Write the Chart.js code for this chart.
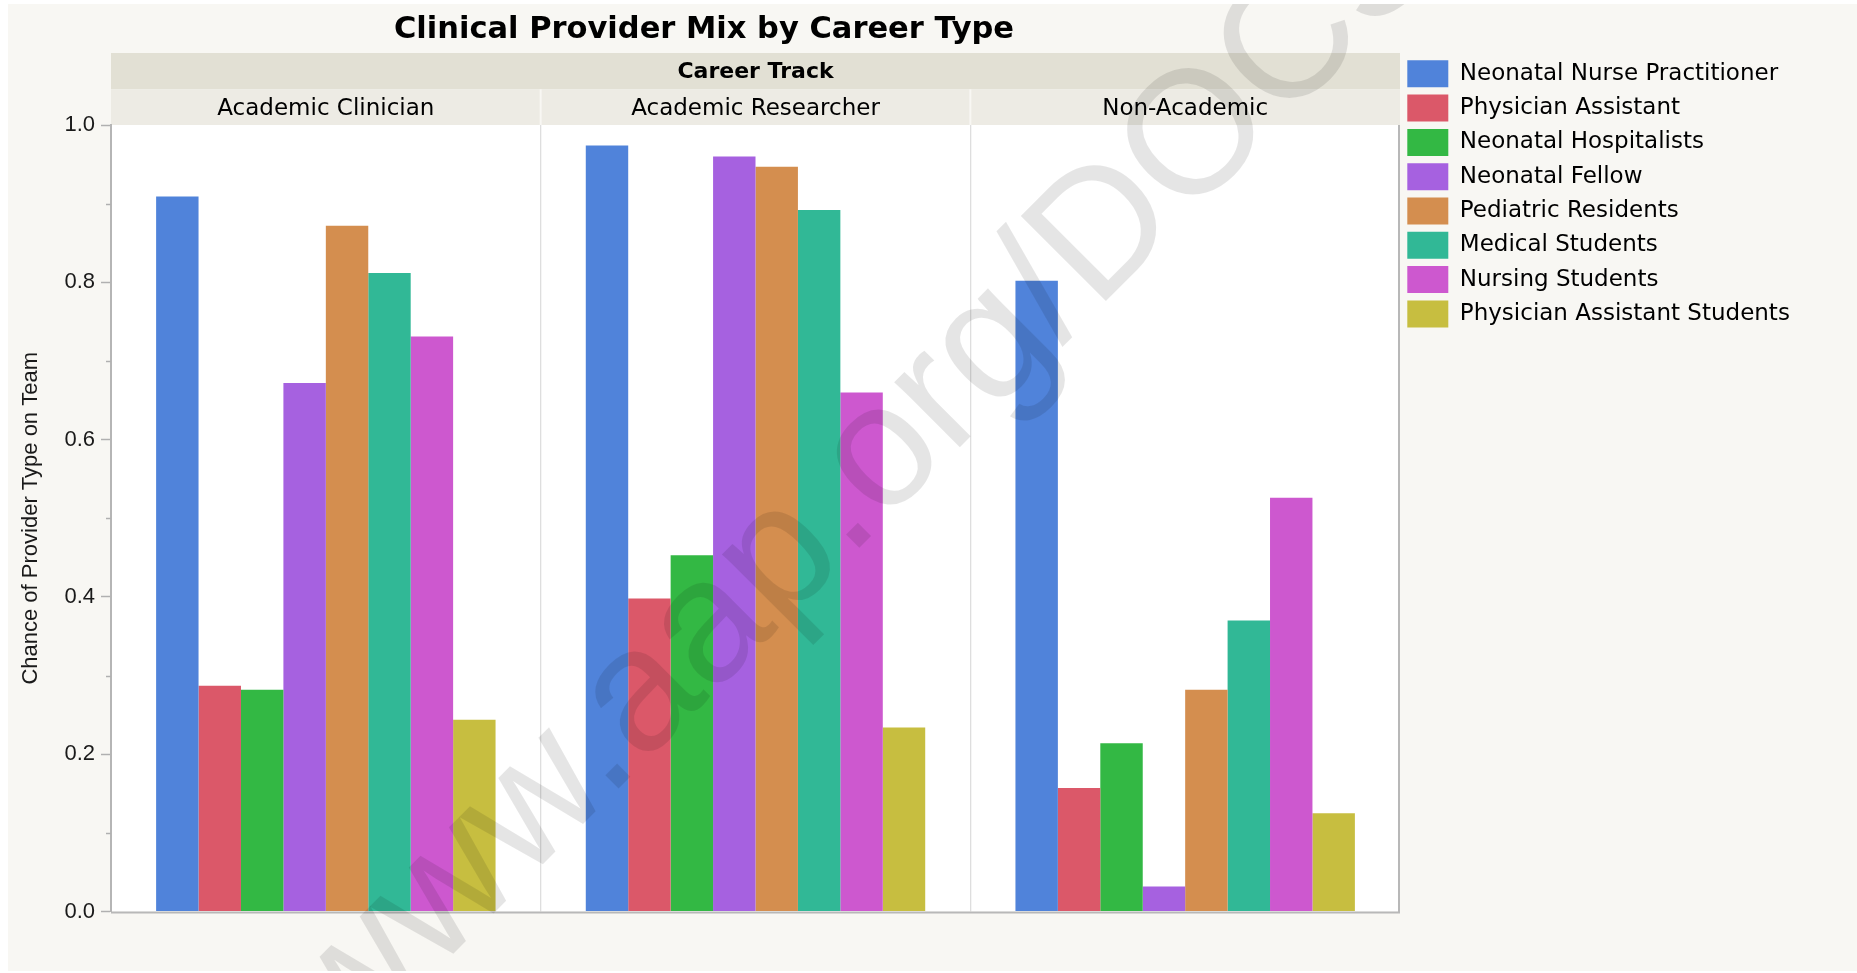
<!DOCTYPE html>
<html>
<head>
<meta charset="utf-8">
<title>Clinical Provider Mix by Career Type</title>
<script src="https://cdn.jsdelivr.net/npm/chart.js@4.4.1/dist/chart.umd.min.js"></script>
<style>
    html, body { margin: 0; padding: 0; background: #ffffff; overflow: hidden; }
    #wrap { position: absolute; left: 8px; top: 4px; width: 1849px; height: 967px; background: #f8f7f3; }
</style>
</head>
<body>
<div id="wrap"><canvas id="chart"></canvas></div>
<script>
// Panels (career track)
const careerTracks = ['Academic Clinician', 'Academic Researcher', 'Non-Academic'];

// Provider types, in legend order
const providerTypes = [
    'Neonatal Nurse Practitioner',
    'Physician Assistant',
    'Neonatal Hospitalists',
    'Neonatal Fellow',
    'Pediatric Residents',
    'Medical Students',
    'Nursing Students',
    'Physician Assistant Students'
];

// Chance of provider type on team, one value per career track
const nursePractitioner  = [0.909, 0.974, 0.802];
const physicianAssistant = [0.287, 0.398, 0.157];
const hospitalists       = [0.282, 0.453, 0.214];
const neonatalFellow     = [0.672, 0.960, 0.032];
const pediatricResidents = [0.872, 0.947, 0.282];
const medicalStudents    = [0.812, 0.892, 0.370];
const nursingStudents    = [0.731, 0.660, 0.526];
const paStudents         = [0.244, 0.234, 0.125];

const seriesValues = [nursePractitioner, physicianAssistant, hospitalists, neonatalFellow,
    pediatricResidents, medicalStudents, nursingStudents, paStudents];

const providerColors = ['#5083da', '#db5869', '#33b844', '#a661e0', '#d48e4f', '#31b896', '#cd58cf', '#c7be40'];

// y axis
const yMin = 0;
const yMax = 1.0;
const yStep = 0.2;
const yMinorTicks = [0.1, 0.3, 0.5, 0.7, 0.9];

// Legend sizing: work out how wide Chart.js will make the legend, so the plot ends at x = 1392
const legendFont = { family: 'DejaVu Sans', size: 23 };
const legendBox = 41;
const legendPad = 7.3;
const measureCtx = document.createElement('canvas').getContext('2d');
measureCtx.font = legendFont.size + 'px ' + legendFont.family;
const longestLabel = Math.max(...providerTypes.map(t => measureCtx.measureText(t).width));
const legendWidth = legendPad + legendBox + legendFont.size / 2 + longestLabel + 10;
const plotRight = 1392;
const padRight = 1849 - plotRight - legendWidth;

// Strips, frame, title and watermark
const facetDecor = {
    id: 'facetDecor',
    beforeDraw(chart) {
        const { ctx, chartArea } = chart;
        const xs = chart.scales.x;
        ctx.save();
        // white plot area
        ctx.fillStyle = '#ffffff';
        ctx.fillRect(chartArea.left, chartArea.top, chartArea.right - chartArea.left, chartArea.bottom - chartArea.top);
        // Career Track strip + panel label strip
        const stripTop = xs.top;
        const midLine = xs.top + 36.3;
        ctx.fillStyle = '#e2e0d4';
        ctx.fillRect(chartArea.left, stripTop, chartArea.right - chartArea.left, midLine - stripTop);
        ctx.fillStyle = '#edebe4';
        ctx.fillRect(chartArea.left, midLine, chartArea.right - chartArea.left, chartArea.top - midLine);
        // separators in the panel label strip
        ctx.strokeStyle = '#f8f7f3';
        ctx.lineWidth = 2;
        for (let i = 1; i < careerTracks.length; i++) {
            const bx = (xs.getPixelForValue(i - 1) + xs.getPixelForValue(i)) / 2;
            ctx.beginPath();
            ctx.moveTo(bx, midLine);
            ctx.lineTo(bx, chartArea.top);
            ctx.stroke();
        }
        ctx.restore();
    },
    afterDraw(chart) {
        const { ctx, chartArea } = chart;
        const ys = chart.scales.y;
        ctx.save();
        // frame: bottom and right
        ctx.strokeStyle = '#b8b8b8';
        ctx.lineWidth = 2;
        ctx.beginPath();
        ctx.moveTo(chartArea.left, chartArea.bottom + 1);
        ctx.lineTo(chartArea.right, chartArea.bottom + 1);
        ctx.moveTo(chartArea.right - 1, chartArea.top);
        ctx.lineTo(chartArea.right - 1, chartArea.bottom + 2);
        ctx.stroke();
        // minor y ticks
        ctx.strokeStyle = '#b0b0b0';
        ctx.lineWidth = 1.5;
        yMinorTicks.forEach(v => {
            const py = Math.round(ys.getPixelForValue(v)) + 0.5;
            ctx.beginPath();
            ctx.moveTo(chartArea.left - 5, py);
            ctx.lineTo(chartArea.left, py);
            ctx.stroke();
        });
        // title
        ctx.fillStyle = '#000000';
        ctx.font = 'bold 30.5px "DejaVu Sans"';
        ctx.textAlign = 'center';
        ctx.textBaseline = 'alphabetic';
        ctx.fillText('Clinical Provider Mix by Career Type', 696, 33.5);
        // watermark
        ctx.translate(338, 1057);
        ctx.rotate(-Math.PI / 4);
        ctx.font = '175px "Liberation Sans"';
        ctx.textAlign = 'left';
        ctx.fillStyle = 'rgba(0, 0, 0, 0.1)';
        ctx.fillText('www.aap.org/DOCS', 0, 0);
        ctx.restore();
    }
};

const ctx = document.getElementById('chart').getContext('2d');
const myChart = new Chart(ctx, {
    type: 'bar',
    data: {
        labels: careerTracks,
        datasets: providerTypes.map((name, i) => ({
            label: name,
            data: seriesValues[i],
            backgroundColor: providerColors[i],
            borderWidth: 0,
            categoryPercentage: 0.79,
            barPercentage: 1.0
        }))
    },
    options: {
        responsive: true,
        maintainAspectRatio: false,
        animation: false,
        layout: {
            padding: { top: 49, left: 0, bottom: 59.4, right: padRight }
        },
        scales: {
            x: {
                position: 'top',
                offset: true,
                border: { display: false },
                grid: {
                    drawTicks: false,
                    color: c => (c.index === 1 || c.index === 2) ? '#dedede' : 'rgba(0,0,0,0)',
                    lineWidth: 1.3
                },
                ticks: {
                    color: '#000000',
                    padding: 2,
                    font: { family: 'DejaVu Sans', size: 23 }
                },
                title: {
                    display: true,
                    text: 'Career Track',
                    color: '#000000',
                    font: { family: 'DejaVu Sans', size: 22, weight: 'bold' },
                    padding: { top: 6, bottom: 0 }
                },
                afterFit: s => { s.height = 72; }
            },
            y: {
                min: yMin,
                max: yMax,
                border: { display: true, color: '#b5b5b5', width: 2 },
                grid: {
                    drawOnChartArea: false,
                    drawTicks: true,
                    tickLength: 10,
                    tickColor: '#b0b0b0',
                    tickWidth: 1.5
                },
                ticks: {
                    stepSize: yStep,
                    padding: 6,
                    color: '#1a1a1a',
                    font: { family: 'Liberation Sans', size: 22 },
                    callback: v => Number(v).toFixed(1)
                },
                title: {
                    display: true,
                    text: 'Chance of Provider Type on Team',
                    color: '#1a1a1a',
                    font: { family: 'Liberation Sans', size: 22 },
                    padding: { top: 10, bottom: 0 }
                },
                afterFit: s => { s.width = 103; }
            }
        },
        plugins: {
            title: { display: false },
            tooltip: { enabled: false },
            legend: {
                position: 'right',
                align: 'start',
                labels: {
                    boxWidth: legendBox,
                    boxHeight: 27,
                    padding: legendPad,
                    color: '#000000',
                    font: legendFont
                }
            }
        }
    },
    plugins: [facetDecor]
});
</script>
</body>
</html>
